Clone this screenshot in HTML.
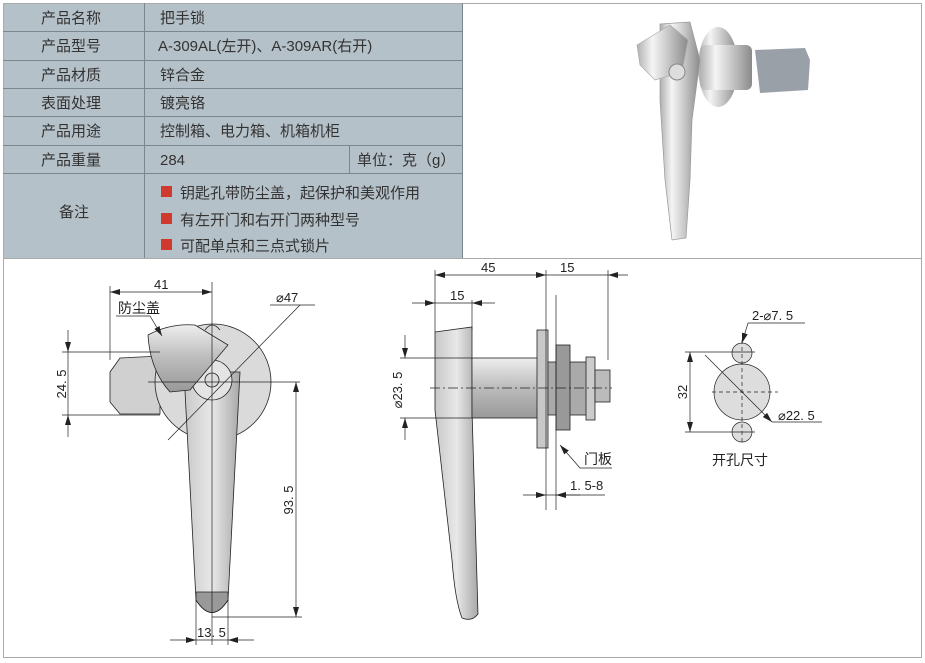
<!DOCTYPE html>
<html><head><meta charset="utf-8"><style>
body{margin:0;background:#fff;width:925px;height:663px;overflow:hidden}
svg{display:block}
.t{font-family:"Liberation Sans","Noto Sans CJK SC",sans-serif;font-size:15px;fill:#333}
.d{font-family:"Liberation Sans","Noto Sans CJK SC",sans-serif;font-size:13px;fill:#222}
</style></head><body>
<svg width="925" height="663" viewBox="0 0 925 663">
<defs>
<linearGradient id="g1" x1="0" x2="1"><stop offset="0" stop-color="#c8c8c8"/><stop offset=".5" stop-color="#e8e8e8"/><stop offset="1" stop-color="#a8a8a8"/></linearGradient>
<linearGradient id="g2" x1="0" y1="0" x2="0" y2="1"><stop offset="0" stop-color="#eee"/><stop offset=".5" stop-color="#bbb"/><stop offset="1" stop-color="#999"/></linearGradient>
<linearGradient id="ch" x1="0" x2="1"><stop offset="0" stop-color="#b0b0b0"/><stop offset=".3" stop-color="#f5f5f5"/><stop offset=".6" stop-color="#c9c9c9"/><stop offset="1" stop-color="#8a8a8a"/></linearGradient>
<marker id="a" markerWidth="10" markerHeight="6" refX="10" refY="3" orient="auto-start-reverse" markerUnits="userSpaceOnUse"><path d="M0,0L10,3L0,6z" fill="#222"/></marker>
</defs>
<rect x="3" y="3" width="459" height="255" fill="#b5c1c8"/>
<g stroke="#7d868c" stroke-width="1" fill="none">
<rect x="3.5" y="3.5" width="918" height="654" stroke="#aaa"/>
<line x1="3" y1="31.5" x2="462" y2="31.5"/><line x1="3" y1="60.5" x2="462" y2="60.5"/>
<line x1="3" y1="88.5" x2="462" y2="88.5"/><line x1="3" y1="116.5" x2="462" y2="116.5"/>
<line x1="3" y1="145.5" x2="462" y2="145.5"/><line x1="3" y1="173.5" x2="462" y2="173.5"/>
<line x1="3" y1="258.5" x2="922" y2="258.5" stroke="#aaa"/>
<line x1="144.5" y1="3" x2="144.5" y2="258"/><line x1="349.5" y1="145" x2="349.5" y2="173"/>
<line x1="462.5" y1="3" x2="462.5" y2="258"/>
</g>
<g class="t">
<text x="41" y="23">产品名称</text><text x="41" y="51">产品型号</text><text x="41" y="80">产品材质</text>
<text x="41" y="108">表面处理</text><text x="41" y="136">产品用途</text><text x="41" y="165">产品重量</text>
<text x="59" y="217">备注</text>
<text x="160" y="23">把手锁</text><text x="158" y="51">A-309AL(左开)、A-309AR(右开)</text>
<text x="160" y="80">锌合金</text><text x="160" y="108">镀亮铬</text><text x="160" y="136">控制箱、电力箱、机箱机柜</text>
<text x="160" y="165">284</text><text x="357" y="165">单位：克（g）</text>
<text x="180" y="198">钥匙孔带防尘盖，起保护和美观作用</text>
<text x="180" y="225">有左开门和右开门两种型号</text>
<text x="180" y="251">可配单点和三点式锁片</text>
</g>
<rect x="161" y="186" width="11" height="11" fill="#d03a2e"/><rect x="161" y="213" width="11" height="11" fill="#d03a2e"/><rect x="161" y="239" width="11" height="11" fill="#d03a2e"/>
<g>
<path d="M755,50 L805,48 L810,60 L808,90 L760,93 Z" fill="#9aa0a8"/>
<ellipse cx="718" cy="67" rx="20" ry="40" fill="url(#ch)"/>
<rect x="700" y="45" width="52" height="45" rx="6" fill="url(#ch)"/>
<path d="M660,24 L690,22 L700,60 L692,120 L690,180 L686,238 L672,240 L665,180 L660,100 Z" fill="url(#ch)" stroke="#999" stroke-width=".7"/>
<path d="M637,45 L670,25 L688,40 L682,72 L655,80 L640,65 Z" fill="url(#ch)" stroke="#aaa" stroke-width=".7"/>
<circle cx="677" cy="72" r="8" fill="#ddd" stroke="#888"/>
</g>
<g stroke="#222" stroke-width=".8">
<path d="M110,372 L120,358 L160,356 L160,414 L120,414 L110,402Z" fill="#d0d0d0"/>
<circle cx="213" cy="382" r="58" fill="#dadada"/>
<path d="M184,372 L240,372 L228,600 Q212,625 196,600 Z" fill="url(#g1)"/>
<path d="M196,592 L228,592 L228,600 Q212,625 196,600 Z" fill="#999"/>
<circle cx="212" cy="380" r="20" fill="#e4e4e4"/>
<circle cx="212" cy="380" r="7" fill="#ddd"/>
<path d="M148,335 Q170,323 195,325 L228,345 L190,390 L170,392 Q150,370 148,335Z" fill="url(#g2)"/>
<path d="M205,330 Q212,320 220,330" fill="none"/>
</g>
<g stroke="#222" stroke-width=".7" fill="none">
<line x1="110" y1="286" x2="110" y2="360"/><line x1="212" y1="282" x2="212" y2="645"/>
<line x1="110" y1="292" x2="212" y2="292" marker-start="url(#a)" marker-end="url(#a)"/>
<line x1="62" y1="352" x2="160" y2="352"/><line x1="62" y1="415" x2="160" y2="415"/>
<line x1="68" y1="330" x2="68" y2="352" marker-end="url(#a)"/><line x1="68" y1="437" x2="68" y2="415" marker-end="url(#a)"/>
<line x1="68" y1="352" x2="68" y2="415"/>
<line x1="148" y1="382" x2="300" y2="382"/><line x1="212" y1="617" x2="302" y2="617"/>
<line x1="296" y1="382" x2="296" y2="617" marker-start="url(#a)" marker-end="url(#a)"/>
<line x1="168" y1="440" x2="300" y2="305"/><line x1="270" y1="305" x2="315" y2="305"/>
<line x1="196" y1="600" x2="196" y2="645"/><line x1="228" y1="600" x2="228" y2="645"/>
<line x1="170" y1="640" x2="196" y2="640" marker-end="url(#a)"/><line x1="254" y1="640" x2="228" y2="640" marker-end="url(#a)"/>
<line x1="196" y1="640" x2="228" y2="640"/>
<path d="M116,316 L150,316 L162,336" marker-end="url(#a)"/>
</g>
<g class="d"><text x="154" y="289">41</text><text x="118" y="313" font-size="14">防尘盖</text><text x="276" y="302">⌀47</text>
<text x="197" y="637">13. 5</text>
<text transform="translate(66,384) rotate(-90)" text-anchor="middle">24. 5</text>
<text transform="translate(293,500) rotate(-90)" text-anchor="middle">93. 5</text></g>
<g stroke="#222" stroke-width=".8">
<path d="M435,332 L472,327 L472,410 L478,614 Q472,622 462,618 Q455,600 452,560 L435,410Z" fill="url(#g1)"/>
<rect x="472" y="358" width="70" height="60" fill="url(#g2)"/>
<rect x="537" y="330" width="11" height="118" fill="#c8c8c8"/>
<rect x="548" y="362" width="40" height="53" fill="#aaa"/>
<rect x="556" y="345" width="14" height="85" fill="#999"/>
<rect x="586" y="357" width="9" height="63" fill="#ccc"/>
<rect x="595" y="370" width="15" height="32" fill="#bbb"/>
</g>
<g stroke="#222" stroke-width=".7" fill="none">
<line x1="435" y1="270" x2="435" y2="332"/><line x1="546" y1="270" x2="546" y2="510"/><line x1="556" y1="295" x2="556" y2="510"/>
<line x1="608" y1="270" x2="608" y2="360"/><line x1="472" y1="300" x2="472" y2="330"/>
<line x1="435" y1="275" x2="546" y2="275" marker-start="url(#a)" marker-end="url(#a)"/>
<line x1="546" y1="275" x2="608" y2="275"/><line x1="628" y1="275" x2="608" y2="275" marker-end="url(#a)"/>
<line x1="412" y1="303" x2="435" y2="303" marker-end="url(#a)"/><line x1="472" y1="303" x2="435" y2="303"/><line x1="495" y1="303" x2="472" y2="303" marker-end="url(#a)"/>
<line x1="400" y1="358" x2="472" y2="358"/><line x1="400" y1="418" x2="472" y2="418"/>
<line x1="405" y1="335" x2="405" y2="358" marker-end="url(#a)"/><line x1="405" y1="440" x2="405" y2="418" marker-end="url(#a)"/>
<line x1="430" y1="388" x2="612" y2="388" stroke-dasharray="10,3,2,3"/>
<line x1="523" y1="495" x2="546" y2="495" marker-end="url(#a)"/><line x1="580" y1="495" x2="556" y2="495" marker-end="url(#a)"/><line x1="546" y1="495" x2="605" y2="495"/>
<path d="M612,468 L580,468 L560,445" marker-end="url(#a)"/>
</g>
<g class="d"><text x="481" y="272">45</text><text x="560" y="272">15</text><text x="450" y="300">15</text>
<text x="570" y="490">1. 5-8</text><text x="584" y="464" font-size="14">门板</text>
<text transform="translate(402,390) rotate(-90)" text-anchor="middle">⌀23. 5</text></g>
<g stroke="#222" stroke-width=".7">
<circle cx="742" cy="392" r="28" fill="#ddd"/>
<circle cx="742" cy="353" r="10" fill="#ddd"/><circle cx="742" cy="432" r="10" fill="#ddd"/>
</g>
<g stroke="#222" stroke-width=".7" fill="none">
<line x1="685" y1="352" x2="755" y2="352"/><line x1="685" y1="432" x2="755" y2="432"/>
<line x1="690" y1="352" x2="690" y2="432" marker-start="url(#a)" marker-end="url(#a)"/>
<line x1="742" y1="340" x2="742" y2="445" stroke-dasharray="4,3"/><line x1="712" y1="392" x2="778" y2="392" stroke-dasharray="4,3"/>
<line x1="705" y1="355" x2="772" y2="422" marker-end="url(#a)"/><line x1="772" y1="422" x2="822" y2="422"/>
<line x1="748" y1="323" x2="742" y2="343" marker-end="url(#a)"/><line x1="748" y1="323" x2="805" y2="323"/>
</g>
<g class="d"><text x="752" y="320">2-⌀7. 5</text><text x="778" y="420">⌀22. 5</text>
<text x="712" y="465" font-size="14">开孔尺寸</text>
<text transform="translate(687,392) rotate(-90)" text-anchor="middle">32</text></g>
</svg>
</body></html>
